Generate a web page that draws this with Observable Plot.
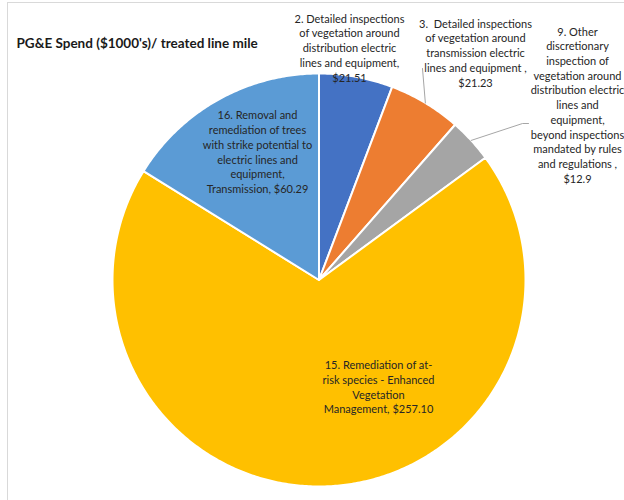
<!DOCTYPE html>
<html><head><meta charset="utf-8">
<script src="https://cdn.jsdelivr.net/npm/d3@7"></script>
<script src="https://cdn.jsdelivr.net/npm/@observablehq/plot@0.6"></script>
<style>
body{margin:0;background:#fff;}
#wrap{position:relative;width:624px;height:500px;overflow:hidden;}
#border{position:absolute;left:7px;top:2px;width:700px;height:600px;border-left:1px solid #d9d9d9;border-top:1px solid #d9d9d9;pointer-events:none;}
</style></head><body>
<div id="wrap"><div id="chart"></div><div id="border"></div></div>
<script>
// ---- data ----
const title = "PG&E Spend ($1000's)/ treated line mile";
const categories = [
  "2. Detailed inspections\nof vegetation around\ndistribution electric\nlines and equipment,\n",
  "3.  Detailed inspections\nof vegetation around\ntransmission electric\nlines and equipment ,\n",
  "9. Other\ndiscretionary\ninspection of\nvegetation around\ndistribution electric\nlines and\nequipment,\nbeyond inspections\nmandated by rules\nand regulations ,\n",
  "15. Remediation of at-\nrisk species - Enhanced\nVegetation\nManagement, ",
  "16. Removal and\nremediation of trees\nwith strike potential to\nelectric lines and\nequipment,\nTransmission, "
];
const values = [21.51, 21.23, 12.9, 257.10, 60.29];
const valueLabels = ["$21.51", "$21.23", "$12.9", "$257.10", "$60.29"];
const colors = ["#4472C4", "#ED7D31", "#A5A5A5", "#FFC000", "#5B9BD5"];

// ---- layout ----
const cx = 318.5, cy = 279.5, R = 206.5;
const labelPos = [[349, 47], [475, 52], [577, 104], [378, 386], [257, 151]];
const leaderEnds = [null, [[422, 68]], [[522, 123], [528, 123]], null, null];

const keys = categories.map((c, i) => "s" + i);
const arcs = d3.pie().sort(null).value(d => d)(values);

const slicePts = [];
arcs.forEach((a, i) => {
  slicePts.push({key: keys[i], x: cx, y: cy});
  const n = Math.max(2, Math.ceil((a.endAngle - a.startAngle) / 0.01));
  for (let k = 0; k <= n; k++) {
    const t = a.startAngle + (a.endAngle - a.startAngle) * k / n;
    slicePts.push({key: keys[i], x: cx + R * Math.sin(t), y: cy - R * Math.cos(t)});
  }
});

const leaders = [];
arcs.forEach((a, i) => {
  if (!leaderEnds[i]) return;
  const m = (a.startAngle + a.endAngle) / 2;
  leaders.push({key: keys[i], x: cx + R * Math.sin(m), y: cy - R * Math.cos(m)});
  leaderEnds[i].forEach(p => leaders.push({key: keys[i], x: p[0], y: p[1]}));
});

const labelData = categories.map((c, i) => ({
  text: c + valueLabels[i], x: labelPos[i][0], y: labelPos[i][1]
}));

const font = "Lato, 'Open Sans', sans-serif";

const chart = Plot.plot({
  width: 624, height: 500, margin: 0,
  x: {domain: [0, 624], range: [0, 624], axis: null},
  y: {domain: [0, 500], range: [0, 500], axis: null},
  color: {domain: keys, range: colors},
  style: {background: "white"},
  marks: [
    Plot.line(slicePts, {x: "x", y: "y", z: "key", fill: "key", stroke: "white", strokeWidth: 2, strokeLinejoin: "round", curve: "linear-closed"}),
    Plot.line(leaders, {x: "x", y: "y", z: "key", stroke: "#a6a6a6", strokeWidth: 1}),
    Plot.text(labelData, {x: "x", y: "y", text: "text", fontSize: 11, lineHeight: 1.34, fill: "#262626", fontFamily: font, textAnchor: "middle", lineAnchor: "middle"}),
    Plot.text([title], {frameAnchor: "top-left", dx: 16, dy: 43, text: d => d, fontSize: 13.5, fontWeight: "bold", fill: "#1a1a1a", fontFamily: font, textAnchor: "start", lineAnchor: "middle"})
  ]
});
document.getElementById("chart").appendChild(chart);
</script>
</body></html>
